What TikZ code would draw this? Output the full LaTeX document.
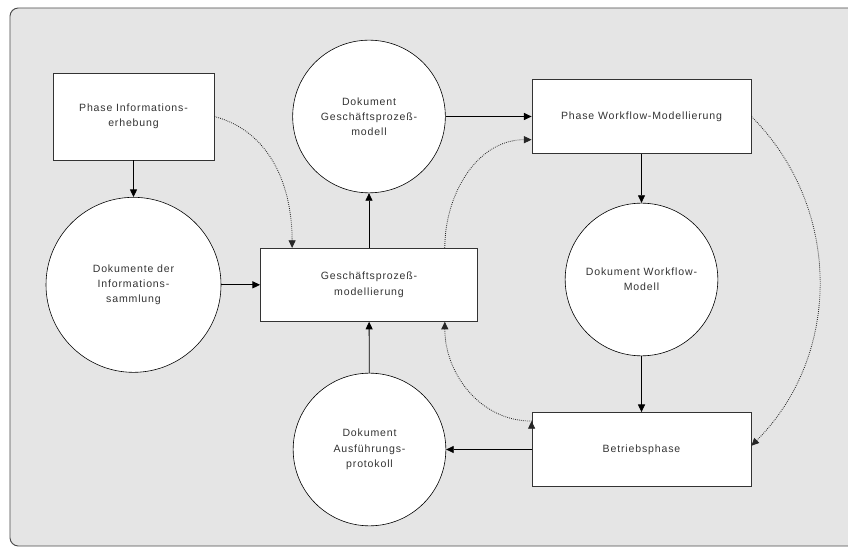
\documentclass[tikz,border=0pt]{standalone}
\usepackage{fontspec}
\setmainfont{Liberation Sans}[LetterSpace=8]
\usetikzlibrary{positioning,calc,arrows.meta}

\begin{document}
\begin{tikzpicture}[>={Triangle[length=6.5pt,width=6pt]},->,on grid,node distance=5.05cm,
    line width=0.7pt,
    phase/.style={draw=black!80,line width=0.7pt,fill=white,align=center,
      minimum width=6.57cm,minimum height=2.22cm},
    doc/.style={circle,draw,line width=0.5pt,fill=white,align=center,
      minimum size=4.58cm,inner sep=0pt},
    flow/.style={densely dotted,black!85,line width=0.7pt},
    font=\fontsize{9}{13}\selectfont,text=black!80]
    \useasboundingbox (-4.005,-12.915) rectangle (21.435,3.495);
    \begin{scope}
      \clip (-4.005,-12.915) rectangle (21.435,3.495);
      \draw[-,black!70,line width=0.8pt,rounded corners=0.25cm,fill=black!10]
        (-3.705,-12.885) rectangle (22.1,3.255);
    \end{scope}

    \node[phase,minimum width=4.83cm,minimum height=2.61cm] (infophase) {Phase Informations-\\erhebung};
    \node[doc,minimum size=5.25cm,below=of infophase] (infodocs) {Dokumente der\\Informations-\\sammlung};
    \node[phase,minimum width=6.51cm,minimum height=2.19cm,right=7.065cm of infodocs] (gpm) {Geschäftsprozeß-\\modellierung};
    \node[doc,above=of gpm] (gpmdoc) {Dokument\\Geschäftsprozeß-\\modell};
    \node[phase,right=8.175cm of gpmdoc] (wfphase) {Phase Workflow-Modellierung};
    \node[doc,below=4.89cm of wfphase] (wfdoc) {Dokument Workflow-\\Modell};
    \node[phase,below=5.1cm of wfdoc] (betrieb) {Betriebsphase};
    \node[doc,left=8.16cm of betrieb] (protokoll) {Dokument\\Ausführungs-\\protokoll};

    \coordinate (gpmtopl) at ($(gpm.north west)!0.147!(gpm.north east)$);
    \coordinate (gpmtopr) at ($(gpm.north west)!0.848!(gpm.north east)$);
    \coordinate (gpmbotr) at ($(gpm.south west)!0.848!(gpm.south east)$);
    \coordinate (wfleft) at ($(wfphase.north west)!0.81!(wfphase.south west)$);
    \coordinate (betrright) at ($(betrieb.north east)!0.45!(betrieb.south east)$);
    \coordinate (betrleft) at ($(betrieb.north west)!0.12!(betrieb.south west)$);

    \draw
    (infophase)
    edge[] (infodocs)
    (infodocs)
    edge[] (gpm)
    (gpm)
    edge[] (gpmdoc)
    (gpmdoc)
    edge[] (wfphase)
    (wfphase)
    edge[] (wfdoc)
    (wfdoc)
    edge[] (betrieb)
    (betrieb)
    edge[] (protokoll)
    (protokoll)
    edge[] (gpm);

    \draw[flow]
    (infophase.east)
    edge[out=-15,in=90] (gpmtopl)
    (gpmtopr)
    edge[out=90,in=180] (wfleft)
    (wfphase.east)
    edge[out=-45,in=45] (betrright)
    (betrleft)
    edge[out=180,in=-90] (gpmbotr);
  \end{tikzpicture}
\end{document}
